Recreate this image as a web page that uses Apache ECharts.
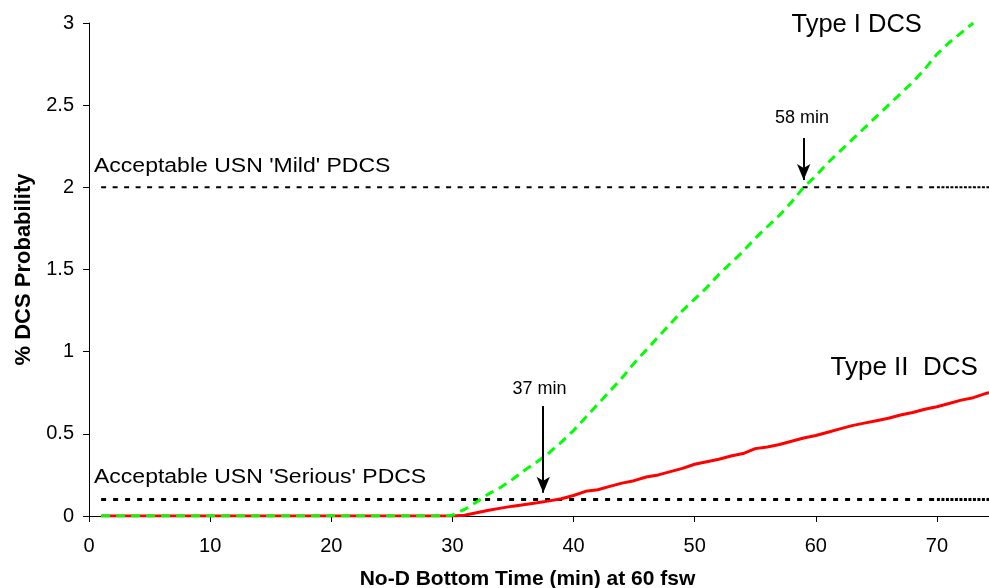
<!DOCTYPE html>
<html>
<head>
<meta charset="utf-8">
<script src="https://cdn.jsdelivr.net/npm/echarts@6/dist/echarts.min.js"></script>
<style>
html,body{margin:0;padding:0;background:#fff;}
#chart{width:989px;height:588px;}
</style>
</head>
<body>
<div id="chart"></div>
<script>
// ---- data ----
const typeI_x = [1, 5, 10, 15, 20, 25, 29, 30, 31, 32, 33, 34, 35, 36, 37, 38, 39, 40, 41, 42, 43, 44, 45, 46, 47, 48, 49, 50, 51, 52, 53, 54, 55, 56, 57, 58, 59, 60, 61, 62, 63, 64, 65, 66, 67, 68, 69, 70, 71, 72, 73];
const typeI_y = [0, 0, 0, 0, 0, 0, 0, 0.005, 0.04, 0.085, 0.135, 0.175, 0.225, 0.28, 0.33, 0.385, 0.45, 0.52, 0.60, 0.68, 0.76, 0.84, 0.93, 1.01, 1.09, 1.17, 1.25, 1.32, 1.39, 1.47, 1.54, 1.61, 1.69, 1.76, 1.83, 1.91, 2.00, 2.07, 2.15, 2.22, 2.29, 2.36, 2.43, 2.50, 2.57, 2.64, 2.72, 2.81, 2.88, 2.94, 3.00];
const typeII_x = [1, 5, 10, 15, 20, 25, 30, 31, 32, 33, 34, 35, 36, 37, 38, 39, 40, 41, 42, 43, 44, 45, 46, 47, 48, 49, 50, 51, 52, 53, 54, 55, 56, 57, 58, 59, 60, 61, 62, 63, 64, 65, 66, 67, 68, 69, 70, 71, 72, 73, 74, 75];
const typeII_y = [0, 0, 0, 0, 0, 0, 0, 0.005, 0.02, 0.035, 0.048, 0.06, 0.07, 0.08, 0.092, 0.105, 0.125, 0.15, 0.16, 0.18, 0.2, 0.215, 0.237, 0.25, 0.27, 0.29, 0.315, 0.33, 0.345, 0.365, 0.38, 0.41, 0.42, 0.435, 0.455, 0.475, 0.49, 0.51, 0.53, 0.55, 0.565, 0.58, 0.595, 0.615, 0.63, 0.65, 0.665, 0.685, 0.705, 0.72, 0.745, 0.76];
const mildLimit = 2;
const seriousLimit = 0.1;
const limitStartX = 1;
const limitDenseX = 70;
const xMin = 0, xMax = 74.3, xStep = 10;
const yMin = 0, yMax = 3, yStep = 0.5;
// arrows: [x, yFrom, yTo]
const arrow58 = [59, 2.30, 2.045];
const arrow37 = [37.5, 0.67, 0.142];

const xTitle = 'No-D Bottom Time (min) at 60 fsw';
const yTitle = '% DCS Probability';

function pairs(xs, ys){ return xs.map((x,i)=>[x, ys[i]]); }

const chart = echarts.init(document.getElementById('chart'));
const FONT = 'Liberation Sans, Arial, sans-serif';

const option = {
  animation: false,
  backgroundColor: '#fff',
  grid: {left: 89, right: 0, top: 23, bottom: 72, containLabel: false, outerBoundsMode: 'none'},
  xAxis: {
    type: 'value', min: xMin, max: xMax, interval: xStep,
    name: xTitle, nameLocation: 'middle', nameGap: 53,
    nameTextStyle: {fontFamily: FONT, fontSize: 21, fontWeight: 'bold', color: '#000', padding: [0, 23, 0, 0]},
    axisLine: {show: true, lineStyle: {color: '#000', width: 1}},
    axisTick: {show: true, length: 6, lineStyle: {color: '#000'}},
    axisLabel: {fontFamily: FONT, fontSize: 20, color: '#000', margin: 20, showMaxLabel: false},
    splitLine: {show: false}
  },
  yAxis: {
    type: 'value', min: yMin, max: yMax, interval: yStep,
    name: yTitle, nameLocation: 'middle', nameGap: 54, nameRotate: 90,
    nameTextStyle: {fontFamily: FONT, fontSize: 22, fontWeight: 'bold', color: '#000'},
    axisLine: {show: true, lineStyle: {color: '#000', width: 1}},
    axisTick: {show: true, length: 6, lineStyle: {color: '#000'}},
    axisLabel: {fontFamily: FONT, fontSize: 20, color: '#000', margin: 15},
    splitLine: {show: false}
  },
  series: [
    {
      name: 'mild', type: 'line', symbol: 'none', silent: true,
      data: [[limitStartX, mildLimit], [limitDenseX, mildLimit]],
      lineStyle: {color: '#000', width: 2, type: [5, 6.5]}
    },
    {
      name: 'mildDense', type: 'line', symbol: 'none', silent: true,
      data: [[limitDenseX, mildLimit], [xMax, mildLimit]],
      lineStyle: {color: '#000', width: 2, type: [3, 1.5]}
    },
    {
      name: 'serious', type: 'line', symbol: 'none', silent: true,
      data: [[limitStartX, seriousLimit], [limitDenseX, seriousLimit]],
      lineStyle: {color: '#000', width: 3, type: [5, 7]}
    },
    {
      name: 'seriousDense', type: 'line', symbol: 'none', silent: true,
      data: [[limitDenseX, seriousLimit], [xMax, seriousLimit]],
      lineStyle: {color: '#000', width: 3, type: [3, 1.5]}
    },
    {
      name: 'Type II DCS', type: 'line', symbol: 'none',
      data: pairs(typeII_x, typeII_y),
      lineStyle: {color: '#ff0000', width: 3, type: 'solid'}
    },
    {
      name: 'Type I DCS', type: 'line', symbol: 'none',
      data: pairs(typeI_x, typeI_y),
      lineStyle: {color: '#00ff00', width: 3, type: [9, 6]},
      markLine: {
        silent: true, symbol: ['none', 'arrow'], symbolSize: [10, 16],
        label: {show: false},
        lineStyle: {color: '#000', width: 2, type: 'solid'},
        data: [
          [{coord: [arrow58[0], arrow58[1]]}, {coord: [arrow58[0], arrow58[2]]}],
          [{coord: [arrow37[0], arrow37[1]]}, {coord: [arrow37[0], arrow37[2]]}]
        ]
      }
    }
  ],
  graphic: [
    {type: 'text', x: 94, y: 166.5, scaleX: 1.15, style: {text: "Acceptable USN 'Mild' PDCS", fontFamily: FONT, fontSize: 20, fill: '#000', textAlign: 'left', textVerticalAlign: 'middle'}},
    {type: 'text', x: 94, y: 477.5, scaleX: 1.15, style: {text: "Acceptable USN 'Serious' PDCS", fontFamily: FONT, fontSize: 20, fill: '#000', textAlign: 'left', textVerticalAlign: 'middle'}},
    {type: 'text', x: 791.5, y: 24.5, style: {text: 'Type I DCS', fontFamily: FONT, fontSize: 25.5, fill: '#000', textAlign: 'left', textVerticalAlign: 'middle'}},
    {type: 'text', x: 830.5, y: 368, style: {text: 'Type II  DCS', fontFamily: FONT, fontSize: 26, fill: '#000', textAlign: 'left', textVerticalAlign: 'middle'}},
    {type: 'text', x: 775, y: 118, style: {text: '58 min', fontFamily: FONT, fontSize: 18, fill: '#000', textAlign: 'left', textVerticalAlign: 'middle'}},
    {type: 'text', x: 512.5, y: 389, style: {text: '37 min', fontFamily: FONT, fontSize: 18, fill: '#000', textAlign: 'left', textVerticalAlign: 'middle'}}
  ]
};
chart.setOption(option);
</script>
</body>
</html>
